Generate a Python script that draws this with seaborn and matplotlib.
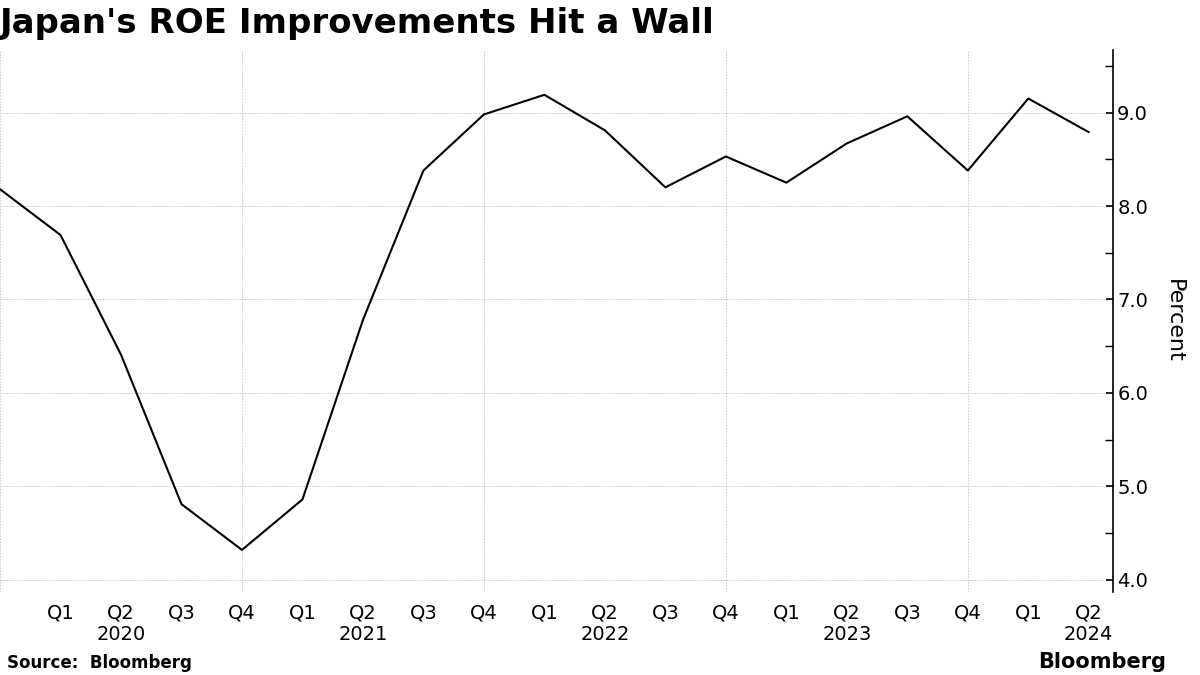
import numpy as np
import pandas as pd
import matplotlib
matplotlib.use("Agg")
import matplotlib.pyplot as plt
from matplotlib.ticker import MultipleLocator
import seaborn as sns

# Quarterly ROE, Q4 2019 .. Q2 2024
quarters = ["Q4", "Q1", "Q2", "Q3", "Q4", "Q1", "Q2", "Q3", "Q4", "Q1",
            "Q2", "Q3", "Q4", "Q1", "Q2", "Q3", "Q4", "Q1", "Q2"]
years = [2019, 2020, 2020, 2020, 2020, 2021, 2021, 2021, 2021, 2022,
         2022, 2022, 2022, 2023, 2023, 2023, 2023, 2024, 2024]
roe = [8.18, 7.69, 6.41, 4.81, 4.32, 4.86, 6.78, 8.38, 8.98, 9.19,
       8.81, 8.20, 8.53, 8.25, 8.67, 8.96, 8.38, 9.15, 8.79]

df = pd.DataFrame({"idx": range(len(roe)), "roe": roe})

sns.set_style("white")
plt.rcParams["font.family"] = ["DejaVu Sans"]
plt.rcParams["text.color"] = "black"
plt.rcParams["xtick.color"] = "black"
plt.rcParams["ytick.color"] = "black"
plt.rcParams["axes.labelcolor"] = "black"

fig = plt.figure(figsize=(12, 6.75), dpi=100)
ax = fig.add_axes([0.0, 0.123, 0.9275, 0.803])

sns.lineplot(data=df, x="idx", y="roe", ax=ax, color="black", linewidth=1.5)

ax.set_xlim(0, 18.4)
ax.set_ylim(3.87, 9.67)

# tick labels: quarter, with year under Q2
labels = []
for q, y in zip(quarters, years):
    labels.append(f"{q}\n{y}" if q == "Q2" else q)
ax.set_xticks(df["idx"][1:])
ax.set_xticklabels(labels[1:], fontsize=14)
ax.tick_params(axis="x", length=0, pad=8)

ax.yaxis.tick_right()
ax.yaxis.set_label_position("right")
ax.yaxis.set_minor_locator(MultipleLocator(0.5))
ax.set_yticks([4, 5, 6, 7, 8, 9])
ax.set_yticklabels([f"{v:.1f}" for v in [4, 5, 6, 7, 8, 9]], fontsize=14)
ax.tick_params(axis="y", which="major", direction="in", length=5, width=1.2, pad=3)
ax.tick_params(axis="y", which="minor", direction="in", length=6, width=1)
ax.set_ylabel("Percent", fontsize=16, rotation=270, labelpad=26)
ax.set_xlabel("")

for s in ["top", "left", "bottom"]:
    ax.spines[s].set_visible(False)
ax.spines["right"].set_color("black")
ax.spines["right"].set_linewidth(1.2)

# grid
for v in [4, 5, 6, 7, 8, 9]:
    ax.axhline(v, color="#c8c8c8", linestyle=(0, (1.5, 1.5)), linewidth=0.7, zorder=0)
for i in [0, 4, 8, 12, 16]:
    ax.axvline(i, color="#c8c8c8", linestyle=(0, (1.5, 1.5)), linewidth=0.7, zorder=0)

fig.text(0.0, 0.965, "Japan's ROE Improvements Hit a Wall", fontsize=24.5,
         fontweight="bold", ha="left", va="center")
fig.text(0.006, 0.018, "Source:  Bloomberg", fontsize=12, fontweight="bold",
         ha="left", va="center")
fig.text(0.972, 0.02, "Bloomberg", fontsize=15, fontweight="bold",
         ha="right", va="center")

fig.savefig("out.png", dpi=100)
